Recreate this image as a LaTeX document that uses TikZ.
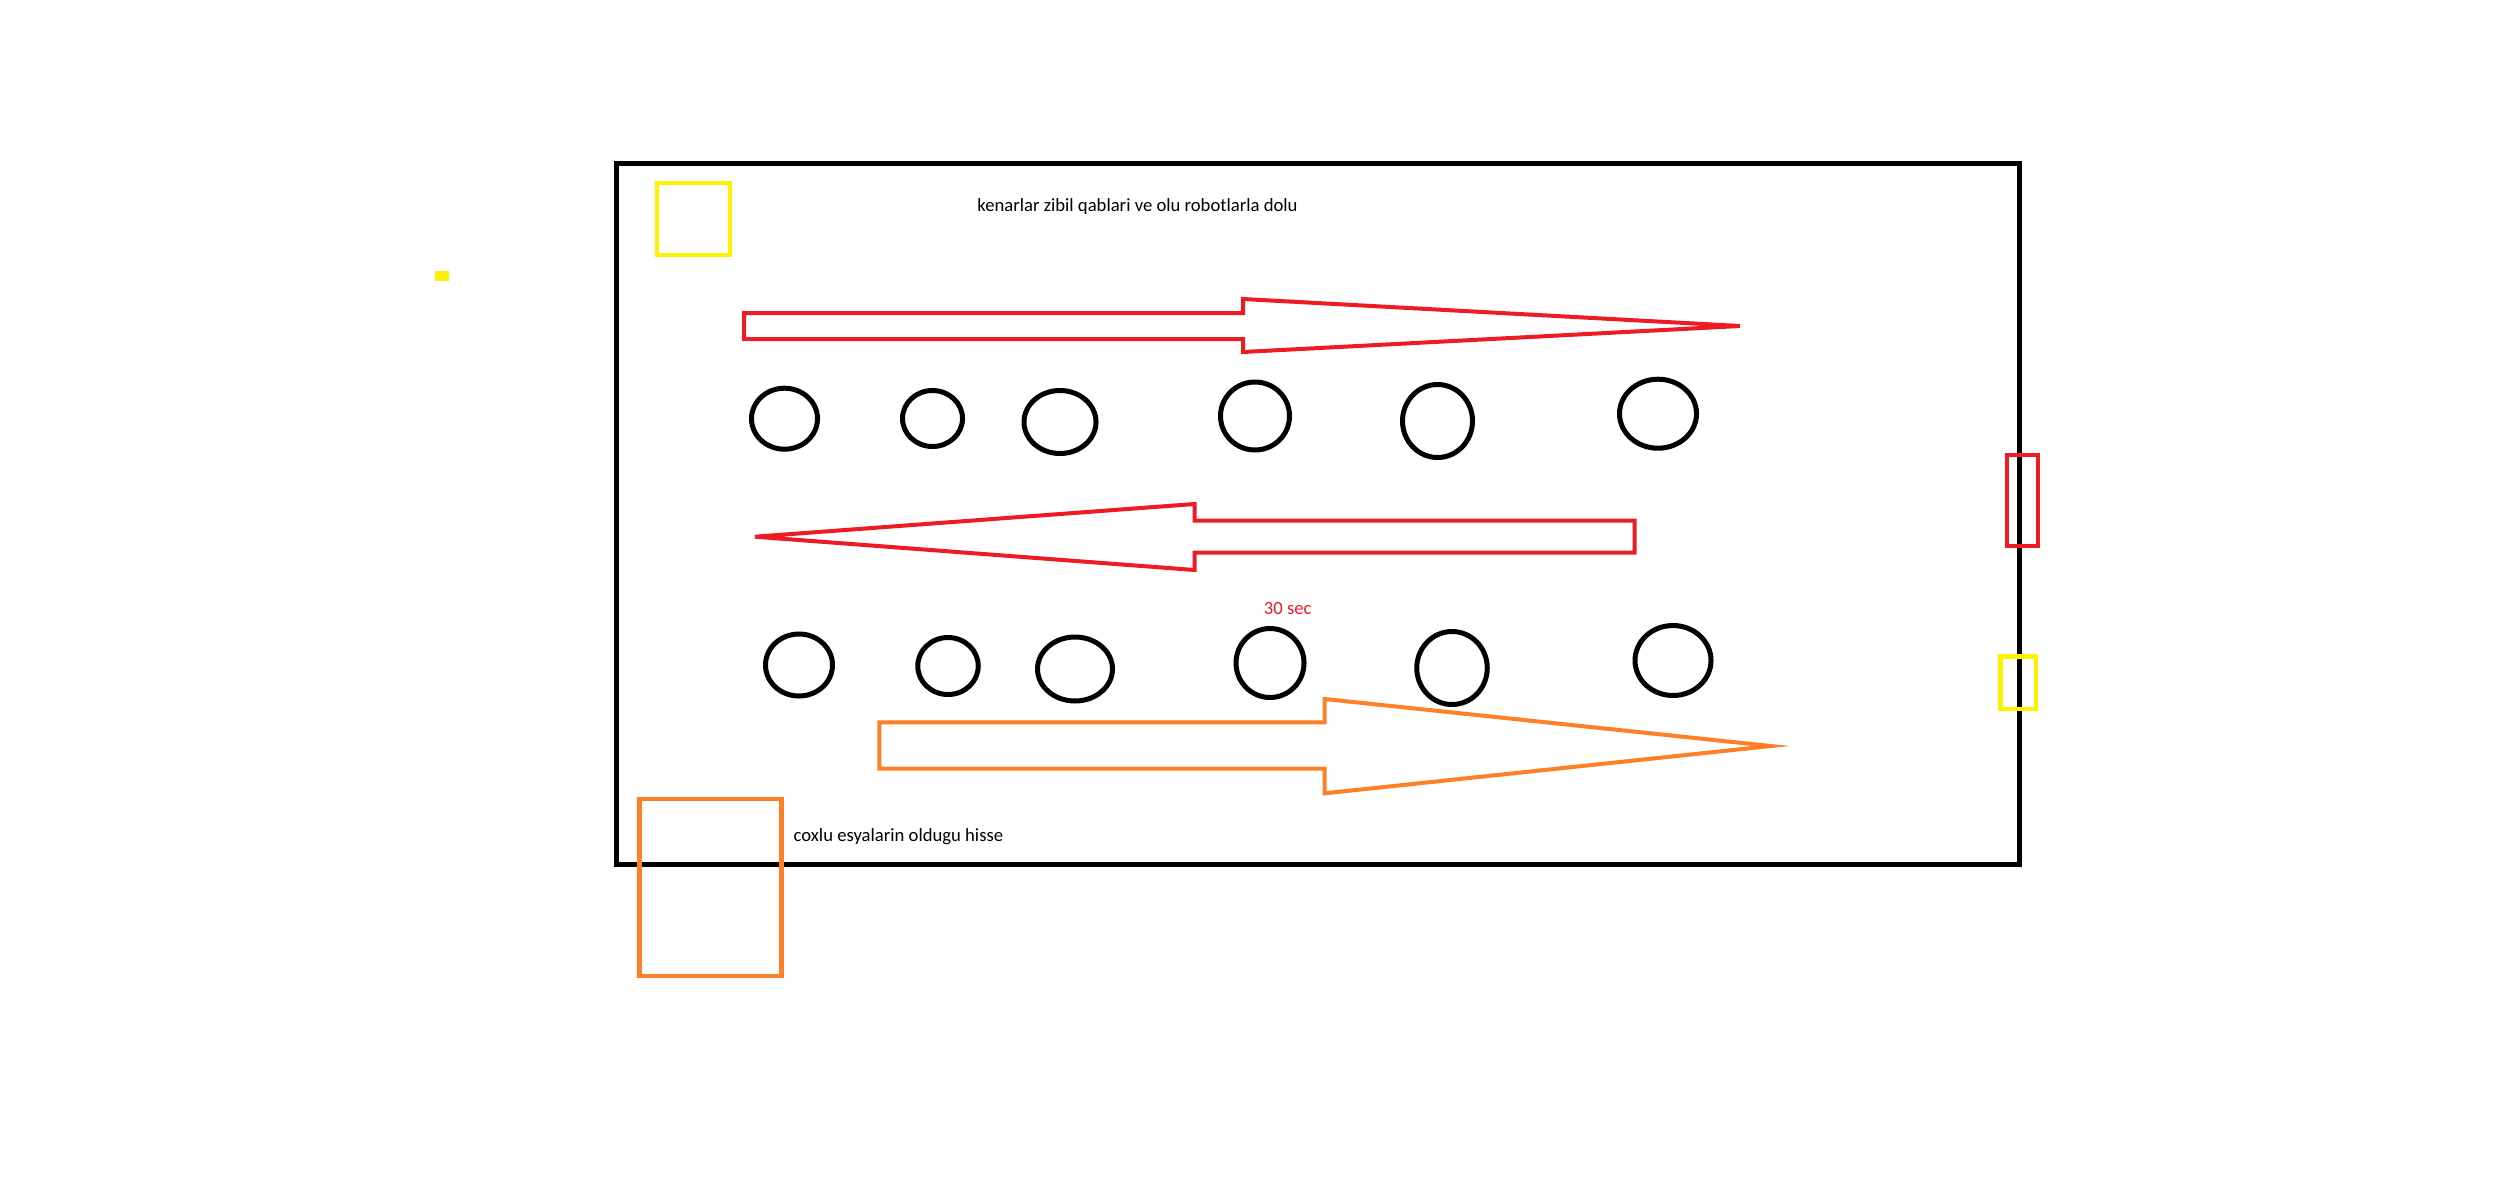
\documentclass[tikz,border=0pt]{standalone}
\usepackage{fontspec}
\setmainfont{Carlito}
\usetikzlibrary{shapes.geometric}
\definecolor{pred}{HTML}{ED1C24}
\definecolor{porange}{HTML}{FF7F27}
\definecolor{pyellow}{HTML}{FFF200}
\tikzset{
  el/.style 2 args={ellipse, draw=black, line width=1.5pt, minimum width=#1*0.3pt, minimum height=#2*0.3pt, inner sep=0pt},
  redline/.style={draw=pred, line width=1.2pt, line join=miter},
  orangeline/.style={draw=porange, line width=1.2pt, line join=miter},
  yellowline/.style={draw=pyellow, line width=1.3pt},
  lbl/.style={inner sep=0pt, anchor=base west, font=\fontsize{5.6pt}{6.7pt}\selectfont},
}
\begin{document}
\begin{tikzpicture}[x=0.3pt, y=-0.3pt]
\useasboundingbox (0,0) rectangle (2501,1180);
% main field
\coordinate (fieldNW) at (616.5,164);
\coordinate (fieldSE) at (2019,864.5);
\draw[line width=1.5pt] (fieldNW) rectangle (fieldSE);
% yellow boxes
\coordinate (ybNW) at (657,183);
\coordinate (ybSE) at (730,255);
\draw[yellowline] (ybNW) rectangle (ybSE);
\coordinate (ydotNW) at (435,271);
\coordinate (ydotSE) at (449,281);
\fill[pyellow] (ydotNW) rectangle (ydotSE);
\coordinate (ryNW) at (2000.5,656.5);
\coordinate (rySE) at (2036,709);
\draw[yellowline] (ryNW) rectangle (rySE);
% red box on right edge
\coordinate (rbNW) at (2006.5,454.5);
\coordinate (rbSE) at (2038,546);
\draw[redline] (rbNW) rectangle (rbSE);
% orange box
\coordinate (obNW) at (639.5,799);
\coordinate (obSE) at (781.5,976);
\draw[orangeline, line width=1.4pt] (obNW) rectangle (obSE);
% arrows
\draw[redline] (744,313) -- (1243,313) -- (1243,299) -- (1740,326) -- (1243,352) -- (1243,339) -- (744,339) -- cycle;
\draw[redline] (1634.7,520.7) -- (1194.6,520.7) -- (1194.6,504) -- (755,536.7) -- (1194.6,570) -- (1194.6,552.7) -- (1634.7,552.7) -- cycle;
\draw[orangeline] (879.4,722.3) -- (1324.7,722.3) -- (1324.7,699) -- (1770.8,746) -- (1324.7,793.3) -- (1324.7,768.7) -- (879.4,768.7) -- cycle;
% row 1 obstacles
\node[el={66}{61}] (a1) at (784.5,418.7) {};
\node[el={60}{56}] (a2) at (932.5,418.5) {};
\node[el={72}{63}] (a3) at (1060,422) {};
\node[el={69}{68}] (a4) at (1255,416) {};
\node[el={70}{73}] (a5) at (1437.5,421) {};
\node[el={77}{69}] (a6) at (1658,413.7) {};
% row 2 obstacles
\node[el={67}{62}] (b1) at (799,665) {};
\node[el={60.5}{57}] (b2) at (948,666) {};
\node[el={75}{64}] (b3) at (1075,669) {};
\node[el={68}{69}] (b4) at (1270,663) {};
\node[el={70.5}{73}] (b5) at (1452,668) {};
\node[el={76}{70}] (b6) at (1673,660.5) {};
% labels
\node[lbl] (t1) at (976.7,211) {kenarlar zibil qablari ve olu robotlarla dolu};
\node[lbl] (t2) at (793,841.7) {coxlu esyalarin oldugu hisse};
\node[lbl, text=pred] (t3) at (1263.3,614) {30 sec};
\end{tikzpicture}
\end{document}
